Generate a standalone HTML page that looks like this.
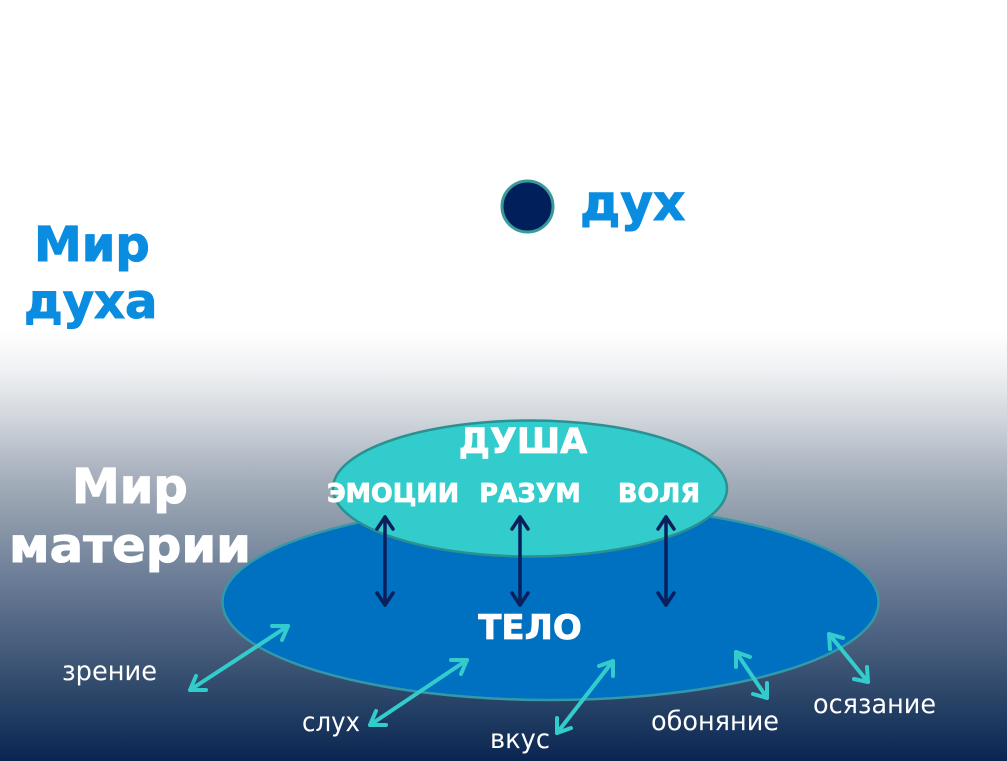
<!DOCTYPE html>
<html>
<head>
<meta charset="utf-8">
<style>
html,body{margin:0;padding:0;background:#fff;}
body{width:1007px;height:761px;overflow:hidden;}
svg{display:block;}
text{font-family:"DejaVu Sans","Liberation Sans",sans-serif;}
</style>
</head>
<body>
<svg width="1007" height="761" viewBox="0 0 1007 761" xmlns="http://www.w3.org/2000/svg">
  <defs>
    <linearGradient id="bg" x1="0" y1="0" x2="0" y2="761" gradientUnits="userSpaceOnUse">
      <stop offset="0" stop-color="#ffffff"/>
      <stop offset="0.435" stop-color="#ffffff"/>
      <stop offset="0.486" stop-color="#f0f1f3"/>
      <stop offset="0.552" stop-color="#d0d5dc"/>
      <stop offset="0.618" stop-color="#aab3bf"/>
      <stop offset="0.683" stop-color="#8d9aaa"/>
      <stop offset="0.749" stop-color="#70819a"/>
      <stop offset="0.815" stop-color="#556987"/>
      <stop offset="0.880" stop-color="#3a5272"/>
      <stop offset="0.946" stop-color="#1e3a60"/>
      <stop offset="1" stop-color="#0a2550"/>
    </linearGradient>
  </defs>
  <rect x="0" y="0" width="1007" height="761" fill="url(#bg)"/>

  <!-- spirit dot -->
  <circle cx="527.5" cy="206.5" r="25.5" fill="#011f5b" stroke="#3a9a9a" stroke-width="3"/>
  <text x="580" y="220" font-size="50" font-weight="bold" fill="#0a8ce0" stroke="#0a8ce0" stroke-width="1">дух</text>

  <!-- Мир духа -->
  <text x="34" y="261" font-size="48" font-weight="bold" fill="#0a8ce0" stroke="#0a8ce0" stroke-width="1">Мир</text>
  <text x="24" y="318" font-size="48" font-weight="bold" fill="#0a8ce0" stroke="#0a8ce0" stroke-width="1">духа</text>

  <!-- Мир материи -->
  <text x="72" y="503" font-size="48" font-weight="bold" fill="#ffffff" stroke="#ffffff" stroke-width="1">Мир</text>
  <text x="9" y="562" font-size="48" font-weight="bold" fill="#ffffff" stroke="#ffffff" stroke-width="1" textLength="242" lengthAdjust="spacingAndGlyphs">материи</text>

  <!-- body ellipse -->
  <ellipse cx="550.5" cy="602" rx="328" ry="98" fill="#0070c0" stroke="#3399a8" stroke-width="2.5"/>
  <!-- soul ellipse -->
  <ellipse cx="530" cy="488.5" rx="197" ry="68" fill="#33cccc" stroke="#2a9090" stroke-width="2.5"/>

  <g fill="#ffffff" stroke="#ffffff" stroke-width="0.8" font-weight="bold" text-anchor="middle">
    <text x="523" y="453" font-size="35">ДУША</text>
    <text x="393" y="502" font-size="25.5">ЭМОЦИИ</text>
    <text x="530" y="502" font-size="25.5">РАЗУМ</text>
    <text x="659" y="502" font-size="25.5">ВОЛЯ</text>
    <text x="530" y="639" font-size="34">ТЕЛО</text>
  </g>

  <!-- dark double arrows -->
  <g stroke="#0b1f5c" stroke-width="3.5" fill="none" stroke-linecap="round" stroke-linejoin="round">
    <line x1="385" y1="517" x2="385" y2="605"/>
    <polyline points="377,529 385,517 393,529"/>
    <polyline points="377,593 385,605 393,593"/>
    <line x1="520" y1="517" x2="520" y2="605"/>
    <polyline points="512,529 520,517 528,529"/>
    <polyline points="512,593 520,605 528,593"/>
    <line x1="666" y1="517" x2="666" y2="605"/>
    <polyline points="658,529 666,517 674,529"/>
    <polyline points="658,593 666,605 674,593"/>
  </g>

  <!-- cyan sense arrows -->
  <g stroke="#33cccc" stroke-width="4" fill="none" stroke-linecap="round" stroke-linejoin="round">
    <!-- зрение -->
    <line x1="190" y1="690" x2="288" y2="626"/>
    <polyline points="196,676 190,690 206,690"/>
    <polyline points="272,626 288,626 282,640"/>
    <!-- слух -->
    <line x1="370" y1="725" x2="467" y2="660"/>
    <polyline points="376,711 370,725 386,725"/>
    <polyline points="451,660 467,660 461,674"/>
    <!-- вкус -->
    <line x1="557" y1="733" x2="613" y2="661"/>
    <polyline points="557,718 557,733 571,728"/>
    <polyline points="599,666 613,661 613,676"/>
    <!-- обоняние -->
    <line x1="736" y1="652" x2="767" y2="698"/>
    <polyline points="736,667 736,652 750,657"/>
    <polyline points="753,694 767,698 767,683"/>
    <!-- осязание -->
    <line x1="829" y1="634" x2="868" y2="682"/>
    <polyline points="830,649 829,634 843,638"/>
    <polyline points="854,679 868,682 867,667"/>
  </g>

  <!-- sense labels -->
  <g font-size="27" fill="#ffffff">
    <text x="62" y="680" textLength="95" lengthAdjust="spacingAndGlyphs">зрение</text>
    <text x="302" y="731" textLength="58" lengthAdjust="spacingAndGlyphs">слух</text>
    <text x="490" y="748" textLength="60" lengthAdjust="spacingAndGlyphs">вкус</text>
    <text x="651" y="730" textLength="128" lengthAdjust="spacingAndGlyphs">обоняние</text>
    <text x="813" y="713" textLength="123" lengthAdjust="spacingAndGlyphs">осязание</text>
  </g>
</svg>
</body>
</html>
